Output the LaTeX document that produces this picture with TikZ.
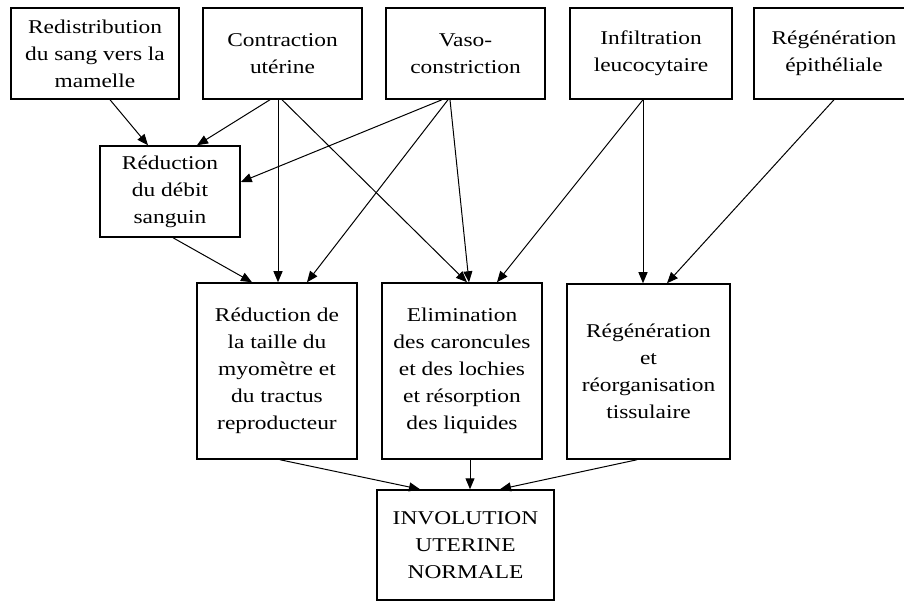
\documentclass[tikz,border=0pt]{standalone}
\usepackage{fontspec}
\setmainfont{Liberation Serif}[FakeStretch=1.2]
\usetikzlibrary{arrows.meta}
\begin{document}
\begin{tikzpicture}[x=1pt,y=-1pt,
  box/.style={draw=black,line width=1.5pt,fill=white,align=center,inner sep=0pt,
    font=\fontsize{19.5}{27}\selectfont},
  conn/.style={line width=1pt,-{Triangle[length=11pt,width=9pt]}}]
\clip (0,0) rectangle (904,601);
\fill[white] (0,0) rectangle (904,601);
% top row
\node[box,minimum width=168pt,minimum height=91pt] (redis) at (95,53.5) {Redistribution\\du sang vers la\\mamelle};
\node[box,minimum width=159pt,minimum height=91pt] (contr) at (282.5,53.5) {Contraction\\utérine};
\node[box,minimum width=159pt,minimum height=91pt] (vaso) at (465.5,53.5) {Vaso-\\constriction};
\node[box,minimum width=162pt,minimum height=91pt] (infil) at (651,53.5) {Infiltration\\leucocytaire};
\node[box,minimum width=160pt,minimum height=91pt] (regep) at (834,53.5) {Régénération\\épithéliale};
% middle
\node[box,minimum width=140pt,minimum height=91pt] (debit) at (170,191.5) {Réduction\\du débit\\sanguin};
% lower row
\node[box,minimum width=160pt,minimum height=176pt] (taille) at (277,371) {Réduction de\\la taille du\\myomètre et\\du tractus\\reproducteur};
\node[box,minimum width=160pt,minimum height=176pt] (elim) at (462,371) {Elimination\\des caroncules\\et des lochies\\et résorption\\des liquides};
\node[box,minimum width=163pt,minimum height=175pt] (regtis) at (648.5,371.5) {Régénération\\et\\réorganisation\\tissulaire};
% bottom
\node[box,minimum width=177pt,minimum height=110pt] (invol) at (465.5,545) {INVOLUTION\\UTERINE\\NORMALE};
% connectors
\draw[conn] ([xshift=15pt]redis.south) -- ([xshift=-22pt]debit.north);
\draw[conn] ([xshift=-12.5pt]contr.south) -- ([xshift=27pt]debit.north);
\draw[conn] ([xshift=-4.5pt]contr.south) -- ([xshift=1pt]taille.north);
\draw[conn] ([xshift=-0.5pt]contr.south) -- ([xshift=5pt]elim.north);
\draw[conn] ([xshift=-23.5pt]vaso.south) -- ([yshift=9.5pt]debit.east);
\draw[conn] ([xshift=-17.5pt]vaso.south) -- ([xshift=30pt]taille.north);
\draw[conn] ([xshift=-15.5pt]vaso.south) -- ([xshift=7pt]elim.north);
\draw[conn] ([xshift=-8pt]infil.south) -- ([xshift=35pt]elim.north);
\draw[conn] ([xshift=-8pt]infil.south) -- ([xshift=-5.5pt]regtis.north);
\draw[conn] (regep.south) -- ([xshift=18.5pt]regtis.north);
\draw[conn] ([xshift=3pt]debit.south) -- ([xshift=-25pt]taille.north);
\draw[conn] ([xshift=3pt]taille.south) -- ([xshift=-45.5pt]invol.north);
\draw[conn] ([xshift=8pt]elim.south) -- ([xshift=4.5pt]invol.north);
\draw[conn] ([xshift=-11.5pt]regtis.south) -- ([xshift=34.5pt]invol.north);
\end{tikzpicture}
\end{document}
